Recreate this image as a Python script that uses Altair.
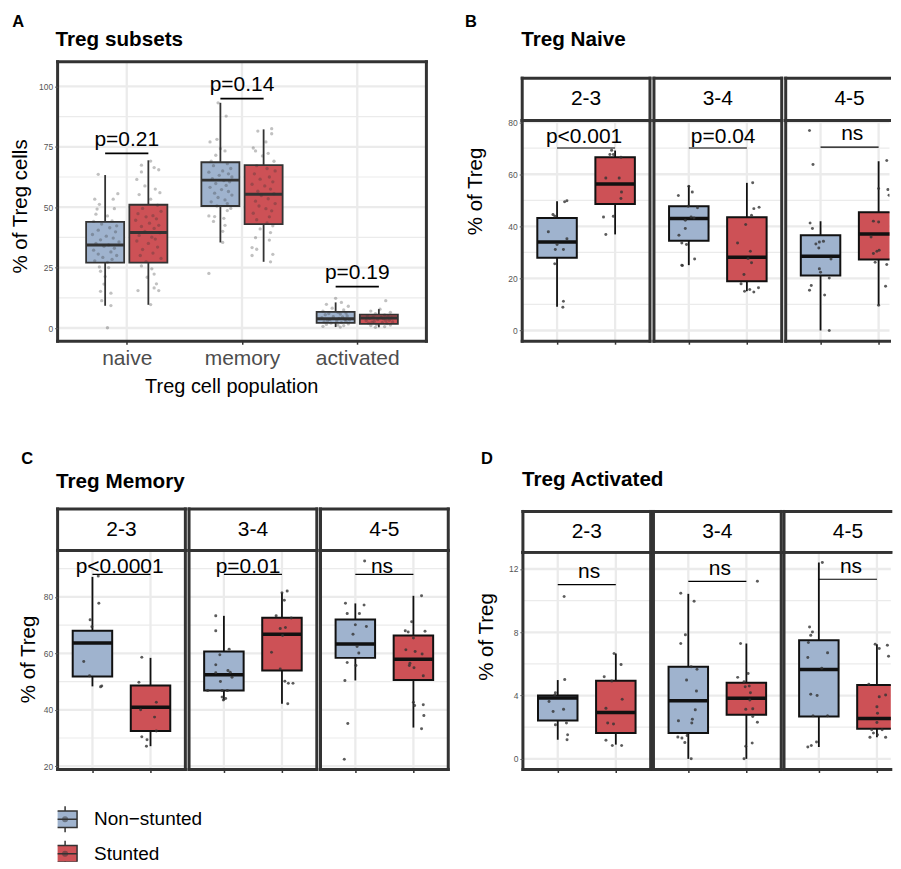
import json
import altair as alt
import pandas as pd

FONT = "Liberation Sans"

# ---------------- data ----------------
GROUPS = ["Non-stunted", "Stunted"]
LEGEND_LABELS = ["Non\u2212stunted", "Stunted"]
FILLS = ["#9FB3CE", "#CD5156"]
AGES = ["2-3", "3-4", "4-5"]
A_CATS = ["naive", "memory", "activated"]

# Panel A box statistics, one value per category (naive, memory, activated)
A_LO = {"Non-stunted": [9.2, 35.4, 0.4], "Stunted": [9.6, 27.4, 0.3]}
A_Q1 = {"Non-stunted": [27.1, 50.5, 2.1], "Stunted": [27.1, 43.0, 1.7]}
A_MED = {"Non-stunted": [34.4, 61.2, 3.8], "Stunted": [39.5, 55.4, 4.1]}
A_Q3 = {"Non-stunted": [43.9, 68.6, 6.7], "Stunted": [51.0, 67.4, 5.5]}
A_HI = {"Non-stunted": [63.3, 93.2, 10.6], "Stunted": [69.4, 82.2, 7.8]}
A_P_LABELS = ["p=0.21", "p=0.14", "p=0.19"]
A_P_LABEL_Y = [75.3, 98.1, 20.2]
A_P_BAR_Y = [72.3, 94.9, 17.1]
A_Y_TICKS = [0, 25, 50, 75, 100]
A_Y_MINOR = [12.5, 37.5, 62.5, 87.5]
A_Y_DOMAIN = [-5.45, 110.2]
A_X_DOMAIN = [0.4, 3.6]

A_VALUES = {
    "naive": {
        "Non-stunted": [63.6, 55.6, 53.3, 53.3, 51.2, 49.2, 49.4, 47.1, 46.4, 44.3, 44.1, 43.0, 42.3, 41.5, 40.5,
                        39.8, 38.7, 38.0, 37.2, 36.5, 35.6, 35.0, 34.4, 33.8, 33.0, 32.2, 31.5, 30.6, 30.0, 29.2,
                        28.4, 27.8, 27.2, 25.3, 25.0, 23.5, 21.3, 18.2, 15.2, 14.4, 11.3, 9.3, 0.1],
        "Stunted": [69.1, 67.4, 66.4, 65.5, 64.6, 61.5, 58.8, 57.5, 56.0, 55.2, 53.3, 50.8, 49.5, 48.3, 47.3,
                    46.5, 46.0, 45.2, 44.6, 43.4, 42.5, 42.0, 41.2, 40.0, 39.4, 38.3, 37.6, 36.8, 36.0, 35.0,
                    33.5, 32.5, 31.0, 30.0, 28.8, 27.5, 25.7, 24.5, 22.3, 21.0, 18.3, 16.6, 15.5, 15.5, 9.7],
    },
    "memory": {
        "Non-stunted": [93.2, 87.7, 78.1, 77.0, 74.2, 73.3, 71.5, 69.1, 68.0, 67.2, 66.0, 65.0, 64.5, 63.8, 63.2,
                        62.5, 61.8, 61.0, 60.5, 59.8, 59.0, 58.2, 57.3, 56.5, 55.8, 55.0, 54.0, 53.0, 52.2, 51.5,
                        50.5, 49.5, 48.6, 46.4, 46.1, 45.4, 44.1, 42.5, 40.0, 35.4, 22.6],
        "Stunted": [82.5, 81.5, 80.4, 77.0, 74.5, 73.3, 72.3, 71.2, 69.0, 67.2, 66.0, 65.0, 63.8, 62.5, 61.6,
                    60.5, 59.5, 58.8, 57.5, 56.6, 55.6, 54.8, 53.5, 52.5, 51.5, 50.5, 49.4, 48.5, 47.5, 46.0,
                    44.8, 43.5, 42.3, 41.0, 39.5, 37.4, 36.4, 33.3, 32.6, 30.5, 30.0, 27.4],
    },
    "activated": {
        "Non-stunted": [12.3, 10.6, 9.8, 9.0, 8.2, 7.5, 7.0, 6.5, 6.2, 6.0, 5.8, 5.5, 5.0, 4.7, 4.6, 4.3, 4.0,
                        3.6, 3.5, 3.3, 3.0, 2.9, 2.8, 2.5, 2.2, 2.0, 1.7, 1.5, 1.2, 1.0, 0.7, 0.4],
        "Stunted": [11.3, 7.8, 7.0, 6.5, 5.9, 5.4, 5.1, 4.8, 4.5, 4.4, 4.2, 4.0, 3.8, 3.5, 3.2, 3.1, 3.0, 2.7,
                    2.5, 2.4, 2.2, 2.0, 1.8, 1.5, 1.2, 1.0, 0.6, 0.3],
    },
}
A_JITTER = {
    "naive": {
        "Non-stunted": [-0.06, 0.11, -0.09, 0.07, -0.05, -0.07, 0.08, -0.08, 0.02, 0.06, -0.10, -0.03, 0.10, 0.04,
                        -0.06, 0.09, -0.11, 0.01, 0.07, -0.04, 0.12, -0.08, 0.03, -0.01, 0.08, -0.10, 0.05, -0.06,
                        0.10, -0.02, 0.06, -0.09, 0.02, -0.05, 0.03, -0.04, 0.00, -0.01, -0.04, 0.05, -0.03, 0.05,
                        0.02],
        "Stunted": [0.02, -0.06, 0.05, 0.09, -0.06, -0.10, -0.03, 0.06, 0.10, -0.08, 0.02, 0.08, -0.05, 0.11,
                    -0.09, 0.04, -0.02, 0.07, -0.11, 0.01, 0.09, -0.06, 0.05, -0.03, 0.10, -0.08, 0.03, 0.06,
                    -0.10, 0.00, 0.08, -0.05, 0.04, -0.07, 0.11, -0.02, -0.06, 0.03, 0.05, -0.01, 0.07, 0.05,
                    0.09, -0.09, 0.02],
    },
    "memory": {
        "Non-stunted": [-0.02, 0.05, -0.03, -0.09, 0.00, 0.04, -0.04, -0.08, 0.06, -0.06, 0.09, 0.02, -0.10, 0.07,
                        -0.01, 0.10, -0.07, 0.03, 0.08, -0.04, 0.05, -0.09, 0.01, 0.07, -0.05, 0.10, -0.02, 0.04,
                        -0.08, 0.06, -0.03, 0.09, 0.06, -0.10, -0.05, 0.03, -0.06, 0.04, 0.02, 0.02, -0.10],
        "Stunted": [0.07, -0.05, 0.07, 0.02, -0.09, -0.07, 0.04, -0.01, 0.09, -0.06, 0.03, 0.10, -0.08, 0.05,
                    -0.03, 0.08, -0.10, 0.01, 0.06, -0.05, 0.09, -0.02, 0.04, -0.07, 0.10, -0.04, 0.02, 0.07,
                    -0.09, 0.05, -0.06, 0.03, 0.08, -0.03, 0.06, -0.07, 0.05, -0.10, -0.06, 0.08, -0.10, 0.06],
    },
    "activated": {
        "Non-stunted": [0.00, 0.05, -0.08, 0.11, -0.03, 0.07, -0.11, 0.02, 0.09, -0.06, 0.04, -0.09, 0.10, -0.02,
                        0.06, -0.12, 0.03, 0.08, -0.05, 0.12, -0.07, 0.01, 0.09, -0.10, 0.05, -0.04, 0.11, -0.08,
                        0.02, 0.07, -0.11, 0.04],
        "Stunted": [0.06, 0.01, -0.07, 0.10, -0.03, 0.05, -0.10, 0.08, -0.05, 0.02, 0.11, -0.08, 0.04, -0.01,
                    0.09, -0.11, 0.06, -0.04, 0.12, -0.06, 0.03, -0.09, 0.07, -0.02, 0.10, -0.07, 0.05, -0.03],
    },
}

# Panel B: Treg naive by age (box statistics per age group 2-3, 3-4, 4-5)
B_LO = {"Non-stunted": [9.1, 25.1, 0.0], "Stunted": [36.9, 15.1, 9.7]}
B_Q1 = {"Non-stunted": [27.9, 34.5, 21.1], "Stunted": [48.6, 18.9, 27.3]}
B_MED = {"Non-stunted": [34.0, 43.0, 28.5], "Stunted": [56.3, 28.1, 37.1]}
B_Q3 = {"Non-stunted": [43.2, 47.7, 36.6], "Stunted": [66.5, 43.5, 45.4]}
B_HI = {"Non-stunted": [49.6, 55.7, 42.0], "Stunted": [69.1, 56.7, 65.0]}
B_P_LABELS = ["p<0.001", "p=0.04", "ns"]
B_P_LABEL_X = [1.465, 1.592, 1.546]
B_P_LABEL_Y = [72.0, 72.0, 73.0]
B_P_BAR_Y = [70.1, 70.1, 70.4]
B_Y_TICKS = [0, 20, 40, 60, 80]
B_Y_MINOR = [10, 30, 50, 70]
B_Y_DOMAIN = [-4.1, 80.6]
B_VALUES = {
    "2-3": {"Non-stunted": [49.8, 49.4, 44.5, 44.0, 37.9, 35.2, 33.0, 31.1, 31.1, 25.6, 11.2, 8.9],
            "Stunted": [69.2, 67.6, 67.6, 66.5, 58.6, 58.6, 53.2, 50.7, 43.6, 43.9, 36.9]},
    "3-4": {"Non-stunted": [55.4, 53.2, 51.8, 47.7, 47.1, 43.6, 43.2, 42.3, 39.2, 36.6, 33.6, 33.0, 27.5, 25.1, 25.0],
            "Stunted": [56.7, 47.3, 46.8, 44.3, 40.7, 33.6, 30.4, 27.6, 26.0, 21.5, 18.0, 15.1, 15.7, 14.8, 16.4]},
    "4-5": {"Non-stunted": [76.8, 63.7, 41.3, 39.2, 33.2, 34.0, 34.3, 31.7, 27.5, 23.7, 22.4, 20.2, 17.3, 15.5, 13.6, 0.0],
            "Stunted": [65.3, 54.5, 54.1, 51.9, 42.0, 41.7, 35.9, 30.4, 30.8, 29.6, 26.2, 25.3, 17.0, 9.7]},
}
B_JITTER = {
    "2-3": {"Non-stunted": [0.17, 0.13, -0.07, -0.04, -0.15, 0.17, 0.0, -0.03, 0.11, -0.04, 0.11, 0.10],
            "Stunted": [-0.06, -0.09, -0.03, 0.10, -0.16, 0.07, 0.11, 0.10, -0.20, -0.03, -0.16]},
    "3-4": {"Non-stunted": [0.0, 0.06, -0.18, -0.01, 0.15, 0.04, 0.09, -0.06, -0.06, -0.17, -0.12, -0.04, 0.10, -0.12, -0.11],
            "Stunted": [0.10, 0.21, 0.12, 0.08, -0.02, -0.16, 0.06, 0.02, 0.08, -0.05, -0.10, -0.04, 0.05, 0.12, 0.20]},
    "4-5": {"Non-stunted": [-0.19, -0.13, -0.18, -0.14, -0.08, -0.02, 0.05, -0.03, 0.18, -0.02, 0.0, 0.15, -0.16, -0.19, 0.07, 0.15],
            "Stunted": [0.14, 0.0, 0.16, 0.18, -0.09, 0.0, -0.13, -0.03, 0.01, -0.09, -0.06, 0.14, 0.12, 0.0]},
}

# Panel C: Treg memory by age
C_LO = {"Non-stunted": [48.3, 43.3, 50.4], "Stunted": [27.1, 42.1, 33.7]}
C_Q1 = {"Non-stunted": [51.8, 46.8, 58.4], "Stunted": [32.5, 53.9, 50.6]}
C_MED = {"Non-stunted": [63.7, 52.4, 63.3], "Stunted": [40.9, 66.8, 57.9]}
C_Q3 = {"Non-stunted": [68.0, 60.7, 72.0], "Stunted": [48.6, 72.6, 66.3]}
C_HI = {"Non-stunted": [87.1, 73.3, 77.7], "Stunted": [58.4, 81.5, 80.4]}
C_P_LABELS = ["p<0.0001", "p=0.01", "ns"]
C_P_LABEL_X = [1.468, 1.415, 1.458]
C_P_LABEL_Y = [88.6, 88.6, 88.6]
C_P_BAR_Y = [88.0, 88.0, 88.0]
C_Y_TICKS = [20, 40, 60, 80]
C_Y_MINOR = [30, 50, 70, 90]
C_Y_DOMAIN = [18.85, 96.5]
C_VALUES = {
    "2-3": {"Non-stunted": [87.4, 77.8, 71.9, 69.4, 57.1, 52.1, 48.4, 48.2],
            "Stunted": [58.6, 49.8, 42.7, 40.0, 37.4, 32.5, 30.4, 29.4, 27.1]},
    "3-4": {"Non-stunted": [73.3, 68.0, 59.5, 61.5, 56.0, 53.9, 53.3, 51.5, 50.0, 46.8, 46.8, 46.8, 44.5, 44.0, 43.5, 53.1],
            "Stunted": [82.1, 81.5, 78.8, 73.3, 72.5, 68.8, 69.2, 66.3, 60.4, 54.5, 50.1, 49.4, 49.4, 42.1]},
    "4-5": {"Non-stunted": [92.7, 77.8, 77.1, 74.1, 74.1, 70.1, 69.5, 66.8, 62.4, 60.1, 56.8, 55.7, 50.4, 35.1, 22.5],
            "Stunted": [80.4, 71.2, 68.0, 67.6, 67.8, 65.4, 61.3, 60.7, 59.8, 56.5, 55.7, 54.9, 52.1, 42.7, 41.5, 41.8, 38.0, 33.3]},
}
C_JITTER = {
    "2-3": {"Non-stunted": [0.10, 0.11, -0.04, -0.01, -0.15, -0.05, 0.16, 0.14],
            "Stunted": [-0.15, -0.20, 0.10, -0.17, 0.07, 0.10, -0.15, -0.06, -0.07]},
    "3-4": {"Non-stunted": [-0.14, -0.14, -0.07, 0.09, -0.14, 0.07, 0.11, 0.14, -0.06, -0.28, -0.03, 0.06, -0.03, 0.03, -0.01, -0.14],
            "Stunted": [0.09, 0.0, 0.04, -0.10, 0.16, -0.03, 0.06, 0.01, -0.18, -0.03, 0.05, 0.11, 0.19, 0.10]},
    "4-5": {"Non-stunted": [0.16, -0.17, 0.15, -0.14, 0.07, 0.0, 0.19, -0.04, 0.03, 0.06, -0.14, 0.01, -0.18, -0.13, -0.19],
            "Stunted": [0.14, -0.03, -0.14, -0.09, 0.20, 0.0, -0.13, 0.03, 0.15, -0.06, -0.07, 0.01, 0.17, 0.0, 0.02, 0.17, 0.18, 0.14]},
}

# Panel D: Treg activated by age
D_LO = {"Non-stunted": [1.21, 0.0, 0.75], "Stunted": [0.9, 0.0, 1.36]}
D_Q1 = {"Non-stunted": [2.43, 1.63, 2.68], "Stunted": [1.63, 2.78, 1.9]}
D_MED = {"Non-stunted": [3.85, 3.68, 5.65], "Stunted": [2.93, 3.83, 2.55]}
D_Q3 = {"Non-stunted": [4.0, 5.82, 7.49], "Stunted": [4.94, 4.81, 4.67]}
D_HI = {"Non-stunted": [4.98, 10.43, 12.41], "Stunted": [6.66, 7.29, 7.24]}
D_P_LABELS = ["ns", "ns", "ns"]
D_P_LABEL_X = [1.539, 1.544, 1.554]
D_P_LABEL_Y = [11.43, 11.64, 11.75]
D_P_BAR_Y = [11.01, 11.22, 11.35]
D_Y_TICKS = [0, 4, 8, 12]
D_Y_MINOR = [2, 6, 10]
D_Y_DOMAIN = [-0.67, 13.05]
D_VALUES = {
    "2-3": {"Non-stunted": [10.26, 5.02, 4.18, 4.04, 3.62, 3.14, 2.99, 2.26, 2.15, 1.53, 1.21],
            "Stunted": [5.97, 6.66, 5.19, 4.92, 3.77, 3.2, 2.26, 2.2, 1.17, 0.84, 0.84]},
    "3-4": {"Non-stunted": [10.47, 9.96, 7.85, 7.29, 5.82, 5.67, 4.98, 4.29, 3.1, 2.41, 2.51, 2.26, 1.38, 1.32, 1.48, 1.04, 0.0],
            "Stunted": [11.22, 7.29, 5.15, 5.4, 4.87, 4.56, 4.6, 4.18, 3.72, 3.14, 3.16, 2.68, 2.32, 0.79, 1.0, 0.0]},
    "4-5": {"Non-stunted": [12.41, 8.33, 8.02, 7.81, 7.35, 6.7, 6.41, 5.72, 4.08, 4.0, 2.72, 2.72, 1.07, 0.75, 0.84],
            "Stunted": [7.24, 6.97, 7.18, 6.49, 4.71, 3.93, 4.04, 3.3, 2.89, 2.3, 1.84, 1.84, 1.63, 1.36, 1.53, 1.36]},
}
D_JITTER = {
    "2-3": {"Non-stunted": [0.11, 0.12, -0.04, -0.05, -0.15, 0.10, -0.08, 0.15, -0.04, 0.17, 0.16],
            "Stunted": [0.09, -0.03, -0.20, -0.07, 0.11, -0.17, -0.14, -0.04, -0.17, -0.06, 0.10]},
    "3-4": {"Non-stunted": [-0.13, 0.10, -0.05, -0.13, 0.05, 0.15, -0.03, 0.14, 0.12, -0.17, 0.07, 0.06, -0.18, -0.11, -0.02, -0.06, 0.05],
            "Stunted": [0.19, -0.10, -0.15, 0.03, -0.04, -0.02, 0.05, 0.07, 0.06, -0.01, 0.11, 0.11, 0.19, -0.01, 0.10, -0.04]},
    "4-5": {"Non-stunted": [0.06, -0.16, -0.11, -0.14, -0.18, 0.15, -0.19, 0.05, -0.14, -0.03, -0.10, 0.15, -0.04, -0.19, -0.13],
            "Stunted": [-0.03, 0.04, 0.18, 0.20, -0.14, 0.04, 0.15, 0.0, 0.01, 0.0, -0.09, 0.09, -0.06, -0.12, 0.01, 0.15]},
}

# ---------------- styles / layout ----------------
GRID = "#EBEBEB"
FRAME = "#333333"
FRAME_W = 3
LETTER_SIZE = 16.5
A_DODGE = 0.1875
A_HW = 0.165
F_HW = 0.34
F_X_MIN, F_X_SPAN = 0.4, 2.2
FW = 128

STYLE_A = dict(line="#333333", whisker=1.8, box=1.8, median=3.0, bar=1.8,
               pt_color="#333333", pt_opacity=0.3, pt_size=11)
STYLE_F = dict(line="#111111", whisker=1.8, box=2.0, median=3.5, bar=1.1,
               pt_color="#333333", pt_opacity=0.8, pt_size=9)

# h = chart height, top = pixel row where the plot panel starts (below the strip)
LAYOUT_B = dict(h=280, top=59, strip=42.5, letter="B", lx=-57.3, ly=-34.5, title="Treg Naive", tx=-1, ty=-15.5,
                ytx=-40.7, yty=129.5, spacing=4.0, extend=None, last_w=104)
LAYOUT_C = dict(h=219.5, top=0, strip=41.5, letter="C", lx=-36.5, ly=-86.2, title="Treg Memory", tx=-1.5, ty=-62.8,
                ytx=-23.2, yty=108.8, spacing=3.7, extend=-46.8, last_w=FW)
LAYOUT_D = dict(h=219.5, top=2, strip=41, letter="D", lx=-42.1, ly=-86.2, title="Treg Activated", tx=-1, ty=-64.5,
                ytx=-30.1, yty=86.3, spacing=2.8, extend=None, last_w=107)
# legend glyph geometry, relative to the left edge of panel A's plot area
LEGEND = dict(kx0=-4.5, kx1=19.5, text_x=36.5, pitch=34.5, first=18.5, height=61)


def one_row(**kw):
    return pd.DataFrame({k: [v] for k, v in kw.items()})


def text_mark(text, x, y, size, weight="normal", align="left", baseline="alphabetic", color="#000000"):
    return alt.Chart(one_row(t=text)).mark_text(
        align=align, baseline=baseline, fontSize=size, fontWeight=weight, font=FONT, color=color
    ).encode(x=alt.value(x), y=alt.value(y), text="t:N")


def fill_enc():
    return alt.Fill("group:N", scale=alt.Scale(domain=GROUPS, range=FILLS), legend=None)


def y_axis(values, title, tx, ty, size=20.5):
    return alt.Axis(values=values, title=title, grid=False, domain=False, ticks=True, tickSize=3,
                    tickColor="#555555", tickWidth=1, labelFontSize=8.5, labelColor="#555555",
                    labelPadding=2, labelFont=FONT, titleFont=FONT, titleFontSize=size,
                    titleFontWeight="normal", titleColor="#000000", titleX=tx, titleY=ty,
                    titleAngle=270, titleBaseline="alphabetic", titleAlign="center", zindex=2)


def x_axis_ticks(values):
    return alt.Axis(values=values, labels=False, title=None, grid=False, domain=False,
                    tickSize=3, tickColor="#333333", tickWidth=1.5, zindex=2)


def rules_frame(w, y0, y1, right=True):
    """Panel frame drawn as rules (left, top, bottom, optional right)."""
    base = alt.Chart(one_row(k=0))
    kw = dict(color=FRAME, strokeWidth=FRAME_W, strokeCap="square")
    out = [
        base.mark_rule(**kw).encode(x=alt.value(0), y=alt.value(y0), y2=alt.value(y1)),
        base.mark_rule(**kw).encode(x=alt.value(0), x2=alt.value(w), y=alt.value(y0)),
        base.mark_rule(**kw).encode(x=alt.value(0), x2=alt.value(w), y=alt.value(y1)),
    ]
    if right:
        out.append(base.mark_rule(**kw).encode(x=alt.value(w), y=alt.value(y0), y2=alt.value(y1)))
    return out


def core_layers(box_df, pts_df, ann_df, xs, ys, w, h, top, ymajor, yminor, xgrid, xaxis, yaxis, st,
                clip=False, right=True):
    def X(f):
        return alt.X(f, type="quantitative", scale=xs, axis=xaxis)

    def Y(f):
        return alt.Y(f, type="quantitative", scale=ys, axis=yaxis)

    L = [
        alt.Chart(pd.DataFrame({"v": ymajor})).mark_rule(color=GRID, strokeWidth=2.3).encode(y=Y("v")),
        alt.Chart(pd.DataFrame({"v": yminor})).mark_rule(color=GRID, strokeWidth=1.2).encode(y=Y("v")),
        alt.Chart(pd.DataFrame({"v": xgrid})).mark_rule(color=GRID, strokeWidth=2.3, clip=clip).encode(
            x=X("v"), y=alt.value(top), y2=alt.value(h)),
        alt.Chart(box_df).mark_rule(color=st["line"], strokeWidth=st["whisker"], clip=clip).encode(
            x=X("pos"), y=Y("lo"), y2="hi"),
        alt.Chart(box_df).mark_rect(stroke=st["line"], strokeWidth=st["box"], clip=clip).encode(
            x=X("x1"), x2="x2", y=Y("q1"), y2="q3", fill=fill_enc()),
        alt.Chart(box_df).mark_rule(color=st["line"], strokeWidth=st["median"], clip=clip).encode(
            x=X("x1"), x2="x2", y=Y("med")),
        alt.Chart(pts_df).mark_circle(color=st["pt_color"], opacity=st["pt_opacity"], size=st["pt_size"],
                                      clip=clip).encode(x=X("x"), y=Y("value")),
        alt.Chart(ann_df).mark_rule(color="#000000", strokeWidth=st["bar"], clip=clip).encode(
            x=X("bx1"), x2="bx2", y=Y("by")),
        alt.Chart(ann_df).mark_text(fontSize=21, font=FONT, color="#000000", align="center",
                                    baseline="alphabetic", clip=clip).encode(
            x=X("lx"), y=Y("ly"), text="label:N"),
    ]
    L += rules_frame(w, top, h, right=right)
    return L


def build_A():
    w, h = 369.5, 280
    xs = alt.Scale(domain=A_X_DOMAIN, nice=False, zero=False)
    ys = alt.Scale(domain=A_Y_DOMAIN, nice=False, zero=False)
    box, pts = [], []
    for ci, cat in enumerate(A_CATS):
        for gi, g in enumerate(GROUPS):
            pos = ci + 1 + (2 * gi - 1) * A_DODGE
            box.append(dict(group=g, pos=pos, x1=pos - A_HW, x2=pos + A_HW, lo=A_LO[g][ci], q1=A_Q1[g][ci],
                            med=A_MED[g][ci], q3=A_Q3[g][ci], hi=A_HI[g][ci]))
            for v, j in zip(A_VALUES[cat][g], A_JITTER[cat][g]):
                pts.append(dict(group=g, x=pos + j, value=v))
    centers = [i + 1 for i in range(len(A_CATS))]
    ann = pd.DataFrame(dict(label=A_P_LABELS, lx=centers, ly=A_P_LABEL_Y,
                            bx1=[c - A_DODGE for c in centers], bx2=[c + A_DODGE for c in centers],
                            by=A_P_BAR_Y))
    xaxis = alt.Axis(values=centers, labelExpr=json.dumps(A_CATS) + "[datum.value - 1]",
                     labelFontSize=21, labelColor="#4D4D4D", labelPadding=3.5, labelFont=FONT,
                     labelFlush=False, labelOverlap=False,
                     tickSize=3, tickColor="#333333", tickWidth=1.5, domain=False, grid=False,
                     title="Treg cell population", titleFontSize=20, titleFontWeight="normal",
                     titleColor="#000000", titleFont=FONT, titleX=174, titleY=51.2,
                     titleBaseline="alphabetic", titleAlign="center", zindex=2)
    yaxis = y_axis(A_Y_TICKS, "% of Treg cells", -30.8, 144.5)
    L = core_layers(pd.DataFrame(box), pd.DataFrame(pts), ann, xs, ys, w, h, 0, A_Y_TICKS, A_Y_MINOR,
                    centers, xaxis, yaxis, STYLE_A)
    L.append(text_mark("A", -45.5, -34.5, LETTER_SIZE, weight="bold"))
    L.append(text_mark("Treg subsets", -2, -15.5, 20.7, weight="bold"))
    return alt.layer(*L).properties(width=w, height=h)


def build_facets(lo, q1, med, q3, hi, values, jitter, plabels, plx, ply, pby, yticks, yminor, ydomain, lay):
    charts = []
    h, top = lay["h"], lay["top"]
    ys = alt.Scale(domain=ydomain, nice=False, zero=False, range=[h, top])
    xpos = [gi + 1 for gi in range(len(GROUPS))]
    for k, age in enumerate(AGES):
        last = k == len(AGES) - 1
        w = lay["last_w"] if last else FW
        cut = w < FW
        xs = alt.Scale(domain=[F_X_MIN, F_X_MIN + F_X_SPAN * w / FW], nice=False, zero=False)
        box, pts = [], []
        for gi, g in enumerate(GROUPS):
            pos = xpos[gi]
            box.append(dict(group=g, pos=pos, x1=pos - F_HW, x2=pos + F_HW, lo=lo[g][k], q1=q1[g][k],
                            med=med[g][k], q3=q3[g][k], hi=hi[g][k]))
            for v, j in zip(values[age][g], jitter[age][g]):
                pts.append(dict(group=g, x=pos + j, value=v))
        ann = pd.DataFrame(dict(label=[plabels[k]], lx=[plx[k]], ly=[ply[k]],
                                bx1=[xpos[0]], bx2=[xpos[-1]], by=[pby[k]]))
        yaxis = y_axis(yticks, "% of Treg", lay["ytx"], lay["yty"]) if k == 0 else None
        L = core_layers(pd.DataFrame(box), pd.DataFrame(pts), ann, xs, ys, w, h, top, yticks, yminor,
                        xpos, x_axis_ticks(xpos), yaxis, STYLE_F, clip=cut, right=not cut)
        s0 = top - lay["strip"]
        L.append(alt.Chart(one_row(k=0)).mark_rect(fill="#FFFFFF")
                 .encode(x=alt.value(0), x2=alt.value(w), y=alt.value(s0), y2=alt.value(top)))
        L += rules_frame(w, s0, top, right=not cut)
        L.append(text_mark(age, FW / 2, s0 + lay["strip"] / 2, 21, align="center", baseline="middle"))
        if k == 0:
            L.append(text_mark(lay["letter"], lay["lx"], lay["ly"], LETTER_SIZE, weight="bold"))
            L.append(text_mark(lay["title"], lay["tx"], lay["ty"], 20.7, weight="bold"))
            if lay["extend"] is not None:
                L.append(alt.Chart(one_row(k=0)).mark_rule(opacity=0).encode(x=alt.value(lay["extend"])))
        charts.append(alt.layer(*L).properties(width=w, height=h))
    return alt.hconcat(*charts, spacing=lay["spacing"], bounds="flush")


def build_legend():
    g = LEGEND
    pitch, first, height = g["pitch"], g["first"], g["height"]
    df = pd.DataFrame({"group": GROUPS, "label": LEGEND_LABELS, "idx": list(range(len(GROUPS)))})
    df["w1"] = df["idx"] - 13 / pitch
    df["w2"] = df["idx"] + 13 / pitch
    df["b1"] = df["idx"] - 8.3 / pitch
    df["b2"] = df["idx"] + 8.3 / pitch
    ys = alt.Scale(domain=[-first / pitch, (height - first) / pitch], nice=False, zero=False, reverse=True)

    def Y(f):
        return alt.Y(f, type="quantitative", scale=ys, axis=None)

    base = alt.Chart(df)
    kx0, kx1 = g["kx0"], g["kx1"]
    kc = (kx0 + kx1) / 2
    layers = [
        base.mark_rule(color="#333333", strokeWidth=1.5, clip=True).encode(x=alt.value(kc), y=Y("w1"), y2="w2"),
        base.mark_rect(stroke="#333333", strokeWidth=1.5, clip=True).encode(
            x=alt.value(kx0), x2=alt.value(kx1), y=Y("b1"), y2="b2", fill=fill_enc()),
        base.mark_rule(color="#333333", strokeWidth=1.5, clip=True).encode(
            x=alt.value(kx0), x2=alt.value(kx1), y=Y("idx")),
        base.mark_circle(color="#333333", opacity=0.5, size=36, clip=True).encode(x=alt.value(kc), y=Y("idx")),
        base.mark_text(align="left", baseline="middle", fontSize=19, font=FONT, color="#000000",
                       clip=True).encode(x=alt.value(g["text_x"]), y=Y("idx"), text="label:N"),
    ]
    return alt.layer(*layers).properties(width=300, height=height)


chartA = build_A()
chartB = build_facets(B_LO, B_Q1, B_MED, B_Q3, B_HI, B_VALUES, B_JITTER, B_P_LABELS, B_P_LABEL_X,
                      B_P_LABEL_Y, B_P_BAR_Y, B_Y_TICKS, B_Y_MINOR, B_Y_DOMAIN, LAYOUT_B)
chartC = build_facets(C_LO, C_Q1, C_MED, C_Q3, C_HI, C_VALUES, C_JITTER, C_P_LABELS, C_P_LABEL_X,
                      C_P_LABEL_Y, C_P_BAR_Y, C_Y_TICKS, C_Y_MINOR, C_Y_DOMAIN, LAYOUT_C)
chartD = build_facets(D_LO, D_Q1, D_MED, D_Q3, D_HI, D_VALUES, D_JITTER, D_P_LABELS, D_P_LABEL_X,
                      D_P_LABEL_Y, D_P_BAR_Y, D_Y_TICKS, D_Y_MINOR, D_Y_DOMAIN, LAYOUT_D)
legend = build_legend()

row1 = alt.hconcat(chartA, chartB, spacing=35.5)
row2 = alt.hconcat(chartC, chartD, spacing=25.2)
upper = alt.vconcat(row1, row2, spacing=53.6)
chart = alt.vconcat(upper, legend, spacing=27.5).properties(
    padding={"left": 2.7, "top": 5, "right": 0, "bottom": 0}
).configure(font=FONT).configure_view(strokeWidth=0)

chart.save("out.html", embed_options={"renderer": "svg", "actions": False})
